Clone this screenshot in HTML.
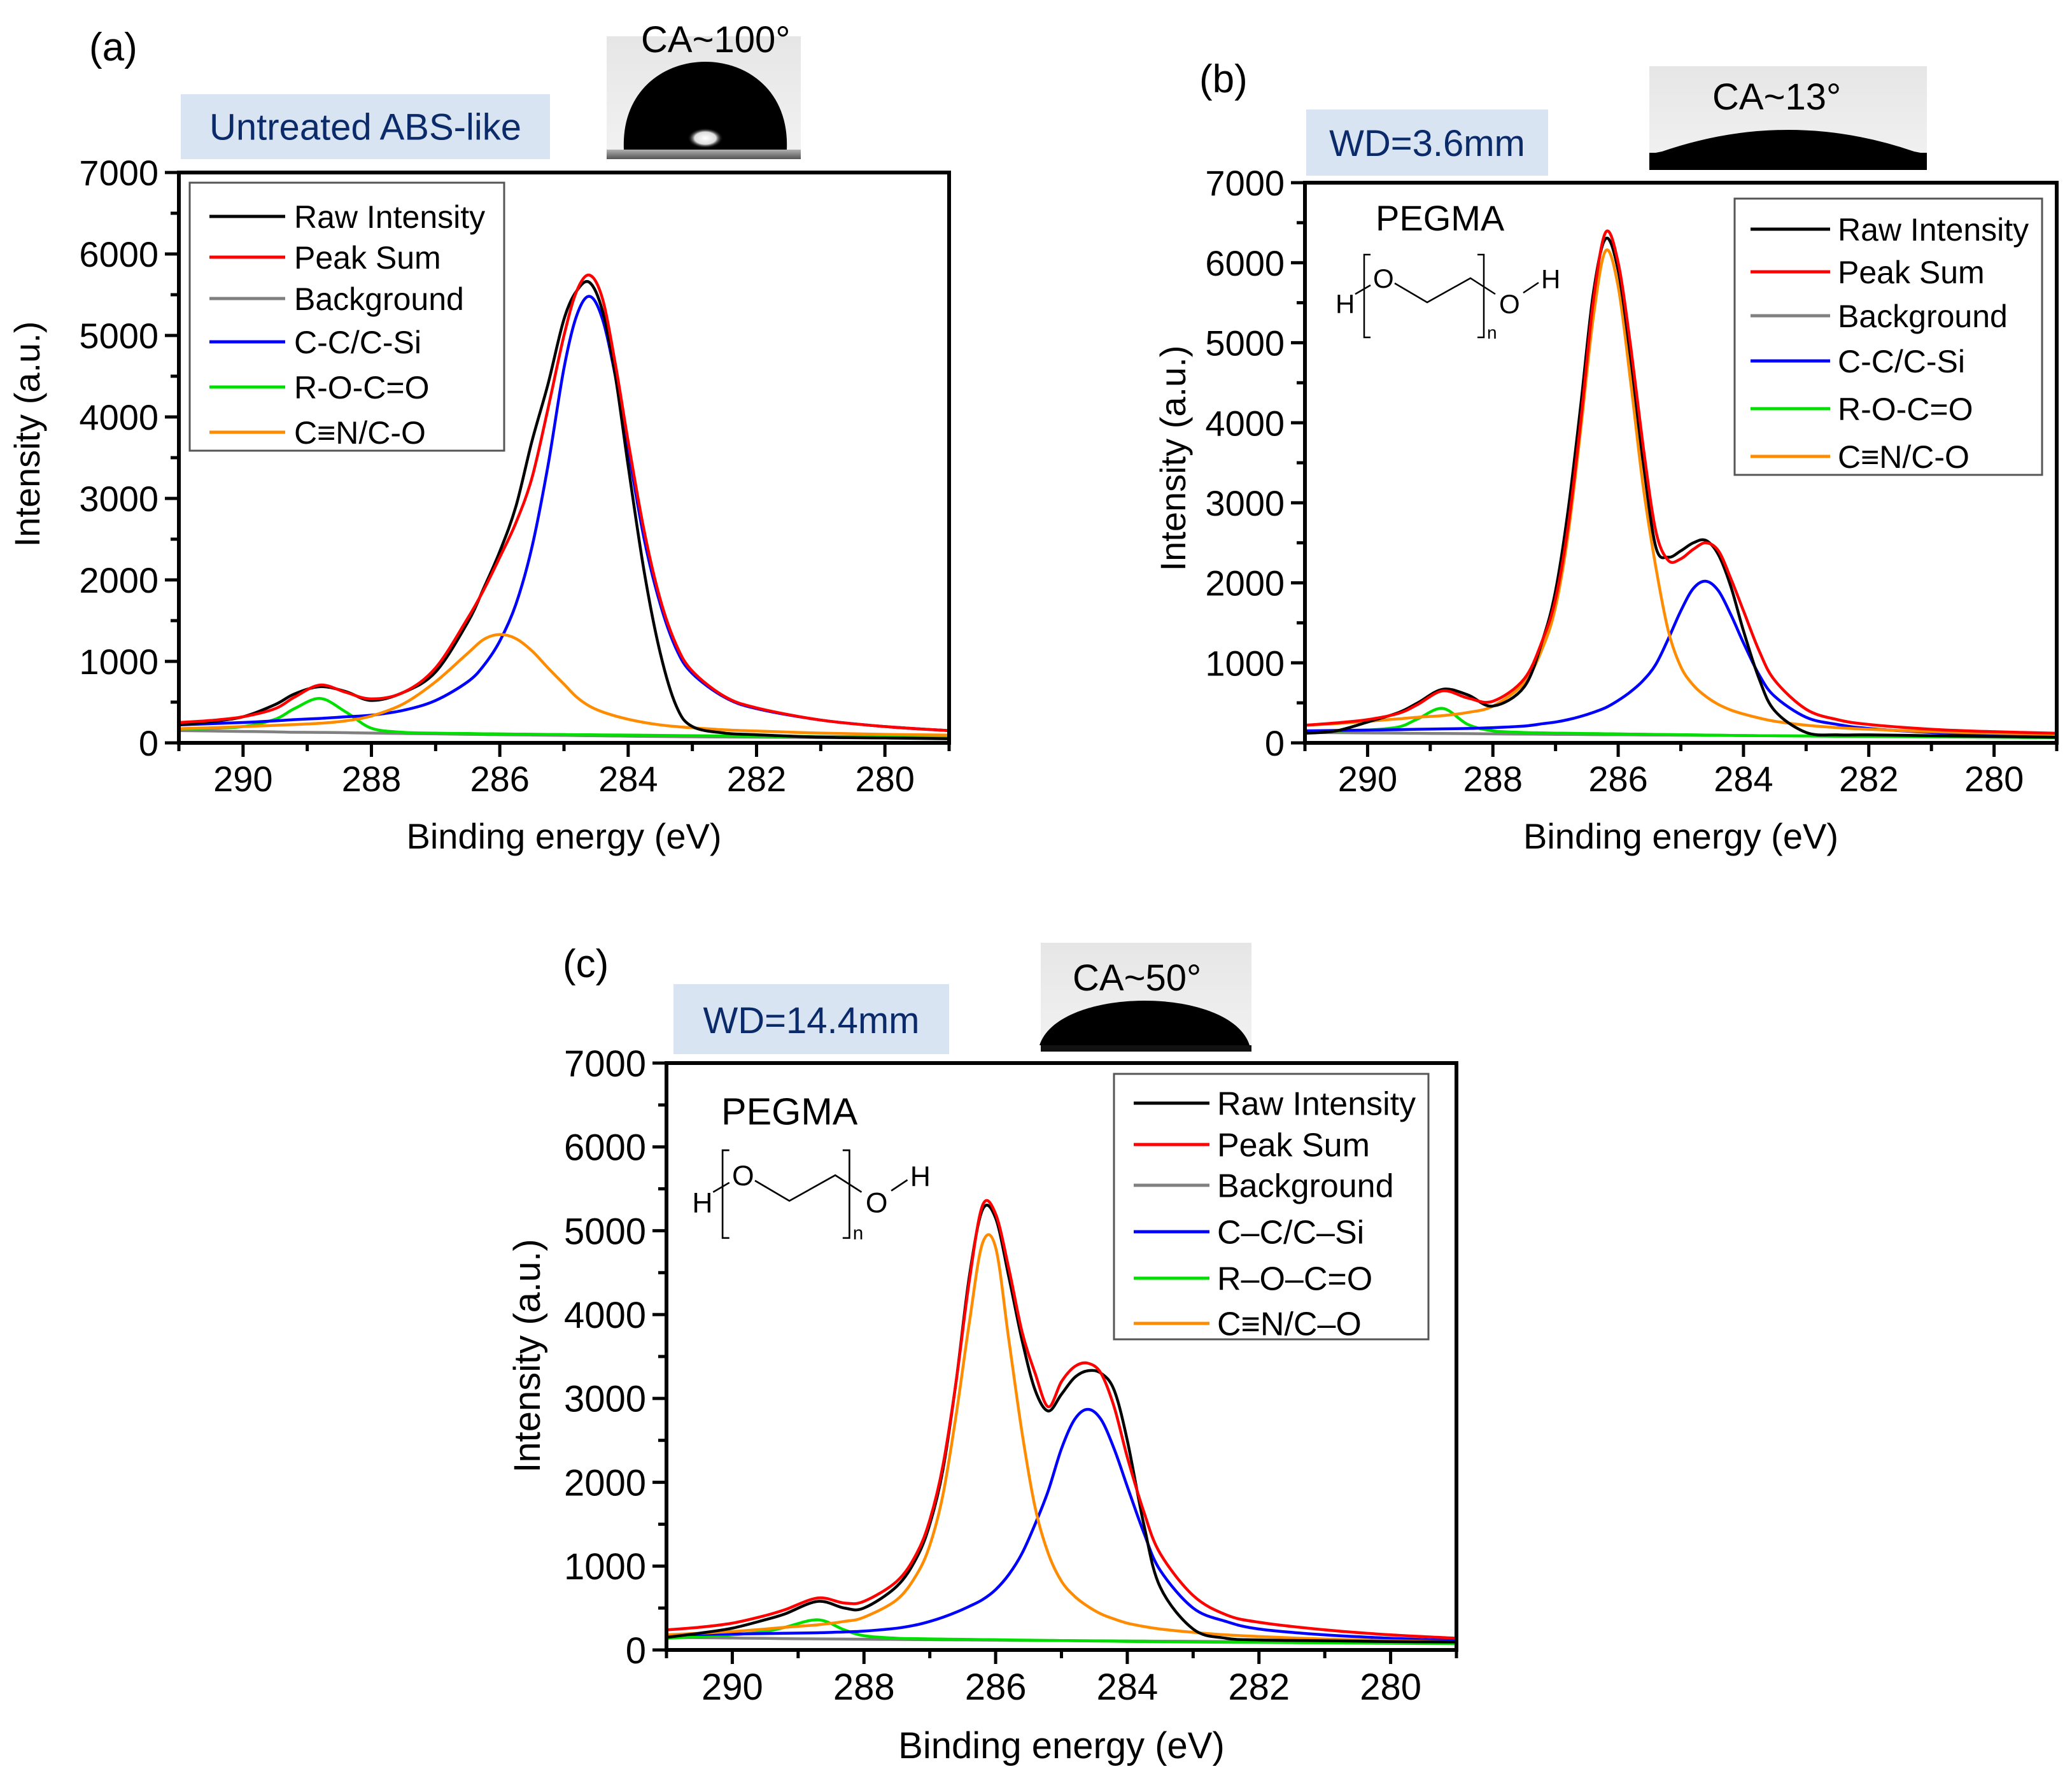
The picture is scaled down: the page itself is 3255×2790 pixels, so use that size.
<!DOCTYPE html>
<html><head><meta charset="utf-8"><style>
html,body{margin:0;padding:0;background:#fff;}
svg{display:block;font-family:"Liberation Sans",Arial,sans-serif;}
</style></head><body>
<svg id="fig" xmlns="http://www.w3.org/2000/svg" width="3255" height="2790" viewBox="0 0 3255 2790">
<defs>
<linearGradient id="camBg" x1="0" y1="0" x2="0" y2="1"><stop offset="0" stop-color="#e6e6e6"/><stop offset="1" stop-color="#f2f2f2"/></linearGradient>
<linearGradient id="camBand" x1="0" y1="0" x2="0" y2="1"><stop offset="0" stop-color="#b0b0b0"/><stop offset="1" stop-color="#555"/></linearGradient>
<radialGradient id="spot"><stop offset="0" stop-color="#fff"/><stop offset="0.6" stop-color="#ddd"/><stop offset="1" stop-color="#000" stop-opacity="0"/></radialGradient>
</defs>
</svg>
<script>
// ---------- Panel (a) data ----------
const energyA = [291,290.5,290,289.5,289.2,288.8,288.4,288,287.5,287,286.5,286.25,286,285.75,285.5,285.25,285,284.8,284.6,284.4,284.2,284,283.75,283.5,283.25,283,282.5,282,281,280,279];
const rawA    = [220,260,320,470,600,690,630,520,620,870,1480,1900,2350,2900,3700,4400,5200,5550,5650,5300,4500,3400,2100,1100,450,200,120,100,70,60,50];
const sumA    = [250,275,320,420,560,710,620,540,620,920,1530,1880,2280,2700,3250,4100,5000,5550,5740,5450,4650,3700,2600,1760,1200,880,570,430,280,200,150];
const bgA     = [150,145,140,135,130,128,125,120,115,110,105,102,100,98,96,94,92,90,88,86,84,82,80,78,76,74,72,70,65,60,55];
const ccA     = [220,235,250,270,285,300,320,340,400,520,750,950,1250,1700,2400,3400,4600,5250,5480,5200,4500,3600,2500,1700,1150,850,560,420,280,200,150];
const rocoA   = [170,180,200,290,420,545,380,180,130,120,115,112,110,108,106,104,102,100,99,98,97,96,94,92,90,88,85,82,78,72,68];
const cnA     = [175,185,200,215,225,240,270,330,480,750,1100,1270,1330,1280,1130,920,720,560,450,380,330,290,250,220,200,185,160,145,120,105,95];
// ---------- Panel (b) data ----------
const energyB = [291,290.5,290,289.5,289.2,288.8,288.4,288,287.5,287.2,287,286.8,286.6,286.4,286.2,286,285.8,285.6,285.4,285.2,285,284.8,284.6,284.4,284.2,284,283.75,283.5,283,282.5,282,281,280,279];
const rawB    = [120,150,260,380,500,670,600,460,700,1300,1900,2900,4200,5600,6300,5900,4800,3500,2450,2320,2400,2500,2530,2350,1950,1400,800,400,130,100,100,90,80,70];
const sumB    = [220,250,290,370,480,650,560,520,800,1300,1800,2700,4000,5500,6380,6000,4950,3700,2650,2280,2300,2420,2500,2400,2050,1650,1150,780,420,290,230,170,140,120];
const bgB     = [130,127,124,121,119,117,115,112,109,107,106,105,104,103,102,101,100,99,98,97,96,95,94,93,92,91,90,89,87,85,83,79,75,70];
const ccB     = [150,155,160,165,170,175,180,190,210,240,260,290,330,380,440,530,640,780,980,1300,1650,1930,2020,1900,1600,1250,850,580,320,230,180,130,110,95];
const rocoB   = [140,150,160,200,300,430,230,150,130,125,122,120,118,116,114,112,110,108,106,104,102,100,98,96,94,92,90,88,85,82,80,75,70,65];
const cnB     = [220,240,270,300,320,340,380,460,750,1200,1700,2600,3900,5300,6150,5700,4500,3200,2200,1400,950,720,580,480,410,360,310,270,220,190,170,140,120,105];
// ---------- Panel (c) data ----------
const energyC = [291,290.5,290,289.5,289.2,288.7,288.3,288,287.5,287.2,287,286.8,286.6,286.4,286.2,286,285.8,285.6,285.4,285.2,285,284.8,284.6,284.4,284.2,284,283.75,283.5,283,282.5,282,281,280,279];
const rawC    = [150,200,260,360,430,580,500,500,760,1100,1500,2150,3200,4450,5250,5150,4450,3700,3100,2850,3050,3250,3330,3300,3100,2500,1500,750,250,140,120,110,100,95];
const sumC    = [240,270,320,410,480,620,560,580,820,1150,1550,2200,3200,4400,5300,5200,4550,3800,3300,2900,3200,3380,3420,3300,2900,2300,1650,1150,650,420,330,240,180,140];
const bgC     = [150,146,142,138,135,132,130,128,125,123,122,121,120,119,118,117,116,115,114,113,112,111,110,109,108,107,106,105,103,100,98,94,90,85];
const ccC     = [180,185,190,195,200,205,215,225,260,300,340,390,450,520,600,720,900,1150,1500,1900,2400,2750,2870,2750,2400,1950,1400,950,500,340,250,180,140,110];
const rocoC   = [140,160,180,220,270,360,240,170,140,135,132,130,128,126,124,122,120,118,116,114,112,110,108,106,104,102,100,98,95,92,90,85,80,75];
const cnC     = [180,200,220,250,270,300,340,390,600,900,1250,1850,2800,3900,4850,4800,3700,2600,1700,1150,820,640,520,430,370,320,280,250,210,180,160,130,110,95];

const yTickLabels = ["0","1000","2000","3000","4000","5000","6000","7000"];
const xTickLabels = ["290","288","286","284","282","280"];
const legendNamesAB = ["Raw Intensity","Peak Sum","Background","C-C/C-Si","R-O-C=O","C\u2261N/C-O"];
const legendNamesC  = ["Raw Intensity","Peak Sum","Background","C\u2013C/C\u2013Si","R\u2013O\u2013C=O","C\u2261N/C\u2013O"];

const NS = "http://www.w3.org/2000/svg";
const svg = document.getElementById("fig");
function mk(tag, attrs, parent, text){
  const e = document.createElementNS(NS, tag);
  for (const k in attrs) e.setAttribute(k, attrs[k]);
  if (text !== undefined) e.textContent = text;
  (parent || svg).appendChild(e);
  return e;
}
function smoothPath(pts){
  let d = "M" + pts[0][0].toFixed(1) + "," + pts[0][1].toFixed(1);
  for (let i = 0; i < pts.length - 1; i++){
    const p0 = pts[Math.max(0,i-1)], p1 = pts[i], p2 = pts[i+1], p3 = pts[Math.min(pts.length-1,i+2)];
    const c1x = p1[0] + (p2[0]-p0[0])/6, c1y = p1[1] + (p2[1]-p0[1])/6;
    const c2x = p2[0] - (p3[0]-p1[0])/6, c2y = p2[1] - (p3[1]-p1[1])/6;
    d += " C" + c1x.toFixed(1)+","+c1y.toFixed(1)+" "+c2x.toFixed(1)+","+c2y.toFixed(1)+" "+p2[0].toFixed(1)+","+p2[1].toFixed(1);
  }
  return d;
}
const COLORS = ["#000000","#ff0000","#808080","#0000ff","#00e000","#ff8c00"];
const SERIES_KEYS = ["raw-intensity","peak-sum","background","c-c-c-si","r-o-c-o","c-n-c-o"];

function panel(cfg){
  const g = mk("g", {}, svg);
  
  
  const L = cfg.left, R = cfg.right, T = cfg.top, B = cfg.bottom;
  const xS = e => L + (291 - e) / 12 * (R - L);
  const yS = v => B - v / 7000 * (B - T);
  const fs = cfg.fs;

  const lt = mk("text", {x: cfg.letter[0], y: cfg.letter[1], "font-size": 62, fill: "#000"}, g, cfg.letterText);
  
  

  const bx = mk("g", {}, g);
  
  
  mk("rect", {x: cfg.box[0], y: cfg.box[1], width: cfg.box[2], height: cfg.box[3], fill: "#d9e4f3"}, bx);
  mk("text", {x: cfg.box[0] + cfg.box[2]/2, y: cfg.box[1] + cfg.box[3]*0.7, "font-size": 58, fill: "#0b2a6a", "text-anchor": "middle"}, bx, cfg.boxText);

  const ca = mk("g", {}, g);
  
  
  const c = cfg.cam;
  mk("rect", {x: c.x, y: c.y, width: c.w, height: c.h, fill: "url(#camBg)"}, ca);
  if (c.type === "dome"){
    mk("rect", {x: c.x, y: c.base, width: c.w, height: c.y + c.h - c.base, fill: c.dark ? "#111" : "url(#camBand)"}, ca);
    const yc = (c.top - 0.25 * c.base) / 0.75;
    const k = c.k || 0;
    mk("path", {d: "M" + (c.cx - c.rx) + "," + c.base + " C" + (c.cx - c.rx - k) + "," + yc.toFixed(1) + " " + (c.cx + c.rx + k) + "," + yc.toFixed(1) + " " + (c.cx + c.rx) + "," + c.base + " Z", fill: "#000"}, ca);
    if (c.spot) mk("ellipse", {cx: c.cx, cy: c.base - 18, rx: 28, ry: 16, fill: "url(#spot)"}, ca);
  } else {
    mk("rect", {x: c.x, y: c.base, width: c.w, height: c.y + c.h - c.base, fill: "#000"}, ca);
    mk("path", {d: "M" + c.x + "," + (c.base+2) + " L" + (c.x+20) + "," + (c.base-2) + " Q" + (c.x + c.w/2) + "," + (c.top - (c.base - c.top)) + " " + (c.x + c.w - 20) + "," + (c.base-2) + " L" + (c.x + c.w) + "," + (c.base+2) + " Z", fill: "#000"}, ca);
  }
  mk("text", {x: c.tx, y: c.ty, "font-size": 58, fill: "#000"}, ca, c.text);

  const ya = mk("g", {}, g);
  
  
  for (let i = 0; i < yTickLabels.length; i++){
    const v = Number(yTickLabels[i]);
    mk("line", {x1: L - 22, x2: L, y1: yS(v), y2: yS(v), stroke: "#000", "stroke-width": 5}, ya);
    if (i < yTickLabels.length - 1) mk("line", {x1: L - 13, x2: L, y1: yS(v + 500), y2: yS(v + 500), stroke: "#000", "stroke-width": 5}, ya);
    const t = mk("text", {x: L - 32, y: yS(v) + fs*0.36, "font-size": fs, "text-anchor": "end", fill: "#000"}, ya, yTickLabels[i]);
    
    
  }
  const yt = mk("text", {x: cfg.ytitle[0], y: cfg.ytitle[1], "font-size": fs, "text-anchor": "middle", transform: "rotate(-90 " + cfg.ytitle[0] + " " + cfg.ytitle[1] + ")", fill: "#000"}, ya, "Intensity (a.u.)");
  
  

  const xa = mk("g", {}, g);
  
  
  for (let e = 291; e >= 279; e--){
    const major = (e % 2 === 0);
    mk("line", {x1: xS(e), x2: xS(e), y1: B, y2: B + (major ? 22 : 13), stroke: "#000", "stroke-width": 5}, xa);
  }
  for (let i = 0; i < xTickLabels.length; i++){
    const e = Number(xTickLabels[i]);
    const t = mk("text", {x: xS(e), y: B + cfg.xlabDy, "font-size": fs, "text-anchor": "middle", fill: "#000"}, xa, xTickLabels[i]);
    
    
  }
  const xt = mk("text", {x: (L + R)/2, y: B + cfg.xtitleDy, "font-size": fs, "text-anchor": "middle", fill: "#000"}, xa, "Binding energy (eV)");
  
  

  const clip = mk("clipPath", {id: cfg.id + "clip"}, svg);
  mk("rect", {x: L, y: T, width: R - L, height: B - T}, clip);
  const sg = mk("g", {"clip-path": "url(#" + cfg.id + "clip)"}, g);
  const order = [2,4,3,5,0,1];
  for (const k of order){
    const vals = cfg.series[k];
    const pts = cfg.energy.map((e, i) => [xS(e), yS(vals[i])]);
    const p = mk("path", {d: smoothPath(pts), fill: "none", stroke: COLORS[k], "stroke-width": 4.5, "stroke-linejoin": "round"}, sg);
    
    
  }

  const fr = mk("rect", {x: L, y: T, width: R - L, height: B - T, fill: "none", stroke: "#000", "stroke-width": 6}, g);
  
  

  const lg = mk("g", {}, g);
  
  
  const lb = cfg.legend;
  mk("rect", {x: lb.x, y: lb.y, width: lb.w, height: lb.h, fill: "#fff", stroke: "#555", "stroke-width": 3}, lg);
  for (let i = 0; i < 6; i++){
    const ent = mk("g", {}, lg);
    
    
    const yy = lb.rows[i];
    mk("line", {x1: lb.lx1, x2: lb.lx2, y1: yy, y2: yy, stroke: COLORS[i], "stroke-width": 5}, ent);
    mk("text", {x: lb.tx, y: yy + lb.fs*0.36, "font-size": lb.fs, fill: "#000"}, ent, cfg.legendNames[i]);
  }

  if (cfg.peg){
    const pg = mk("g", {transform: "translate(" + cfg.peg.x + "," + cfg.peg.y + ") scale(" + cfg.peg.s + ")"}, g);
    
    
    mk("text", {x: cfg.peg.labelDx, y: -38, "font-size": 56, fill: "#000"}, pg, "PEGMA");
    const st = {stroke: "#000", "stroke-width": 2.5, fill: "none"};
    mk("text", {x: -43, y: 92, "font-size": 42, fill: "#000"}, pg, "H");
    mk("line", Object.assign({x1: -12, y1: 62, x2: 12, y2: 48}, st), pg);
    mk("path", Object.assign({d: "M12,0 L2,0 L2,130 L12,130"}, st), pg);
    mk("text", {x: 16, y: 52, "font-size": 42, fill: "#000"}, pg, "O");
    mk("path", Object.assign({d: "M50,45 L101,75 L169,37 L208,62"}, st), pg);
    mk("path", Object.assign({d: "M180,0 L190,0 L190,130 L180,130"}, st), pg);
    mk("text", {x: 195, y: 132, "font-size": 28, fill: "#000"}, pg, "n");
    mk("text", {x: 214, y: 92, "font-size": 42, fill: "#000"}, pg, "O");
    mk("line", Object.assign({x1: 252, y1: 60, x2: 276, y2: 44}, st), pg);
    mk("text", {x: 280, y: 53, "font-size": 42, fill: "#000"}, pg, "H");
  }
}

panel({
  id: "a", left: 281, right: 1491, top: 271, bottom: 1167, fs: 56,
  letter: [140, 95], letterText: "(a)",
  box: [284, 148, 580, 102], boxText: "Untreated ABS-like",
  cam: {type: "dome", x: 953, y: 57, w: 305, h: 193, cx: 1108, rx: 128, top: 97, base: 235, spot: true, k: 8, text: "CA~100\u00b0", tx: 1007, ty: 82},
  ytitle: [62, 682], xlabDy: 76, xtitleDy: 166,
  energy: energyA, series: [rawA, sumA, bgA, ccA, rocoA, cnA], legendNames: legendNamesAB,
  legend: {x: 298, y: 287, w: 494, h: 421, lx1: 329, lx2: 448, tx: 462, fs: 50, rows: [340,404,469,537,608,679]}
});
panel({
  id: "b", left: 2050, right: 3231, top: 287, bottom: 1167, fs: 56,
  letter: [1884, 145], letterText: "(b)",
  box: [2052, 172, 380, 104], boxText: "WD=3.6mm",
  cam: {type: "flat", x: 2591, y: 104, w: 436, h: 163, top: 205, base: 240, text: "CA~13\u00b0", tx: 2690, ty: 172},
  ytitle: [1862, 720], xlabDy: 76, xtitleDy: 166,
  energy: energyB, series: [rawB, sumB, bgB, ccB, rocoB, cnB], legendNames: legendNamesAB,
  legend: {x: 2725, y: 312, w: 483, h: 434, lx1: 2750, lx2: 2875, tx: 2887, fs: 50, rows: [360,427,496,567,642,717]},
  peg: {x: 2141, y: 400, s: 1, labelDx: 20}
});
panel({
  id: "c", left: 1047, right: 2288, top: 1670, bottom: 2592, fs: 58,
  letter: [884, 1535], letterText: "(c)",
  box: [1058, 1546, 433, 110], boxText: "WD=14.4mm",
  cam: {type: "dome", x: 1635, y: 1481, w: 331, h: 171, cx: 1798, rx: 165, top: 1572, base: 1642, spot: false, dark: true, k: -30, text: "CA~50\u00b0", tx: 1685, ty: 1556},
  ytitle: [848, 2130], xlabDy: 78, xtitleDy: 170,
  energy: energyC, series: [rawC, sumC, bgC, ccC, rocoC, cnC], legendNames: legendNamesC,
  legend: {x: 1750, y: 1687, w: 494, h: 417, lx1: 1781, lx2: 1900, tx: 1912, fs: 52, rows: [1733,1798,1862,1935,2008,2079]},
  peg: {x: 1133, y: 1807, s: 1.06, labelDx: 0}
});
</script>
</body></html>
